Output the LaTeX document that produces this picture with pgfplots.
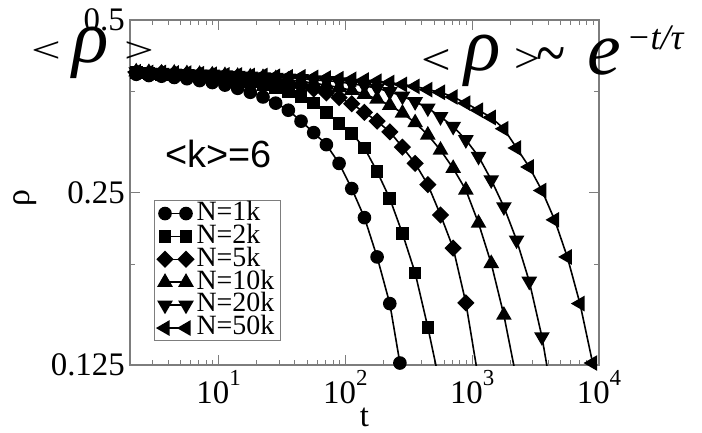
\documentclass[border=0pt]{standalone}
\usepackage{fontspec}
\setmainfont{Liberation Serif}
\newfontfamily\sansf{Liberation Sans}
\usepackage{graphicx}
\usepackage{pgfplots}
\pgfplotsset{compat=1.18}
\definecolor{axgray}{RGB}{125,125,125}

\begin{document}
\begin{tikzpicture}
\begin{axis}[
  at={(0,0)}, anchor=south west,
  scale only axis, width=469bp, height=345bp,
  xmode=log, ymode=log,
  xmin=2, xmax=10000, ymin=0.125, ymax=0.5,
  xtick={10,100,1000,10000},
  xticklabels={10\raisebox{18bp}{\fontsize{23}{23}\selectfont 1},
               10\raisebox{18bp}{\fontsize{23}{23}\selectfont 2},
               10\raisebox{18bp}{\fontsize{23}{23}\selectfont 3},
               10\raisebox{18bp}{\fontsize{23}{23}\selectfont 4}},
  minor xtick={2,3,4,5,6,7,8,9,20,30,40,50,60,70,80,90,200,300,400,500,600,700,800,900,2000,3000,4000,5000,6000,7000,8000,9000},
  ytick={0.125,0.25,0.5}, yticklabels={0.125,0.25,0.5},
  minor ytick={0.1875,0.375},
  tick align=inside,
  major tick length=10bp, minor tick length=5bp,
  axis line style={axgray, line width=1.2bp},
  tick style={axgray, line width=1bp},
  ticklabel style={font=\fontsize{33}{33}\selectfont, inner sep=0pt},
  yticklabel style={xshift=-5bp},
  xticklabel style={yshift=-5bp},
  xlabel={t},
  xlabel style={at={(axis description cs:0.5,-0.152)}, anchor=center, font=\fontsize{33}{33}\selectfont, inner sep=0pt},
  ylabel={ρ},
  ylabel style={at={(axis description cs:-0.224,0.483)}, anchor=center, font=\fontsize{34}{34}\selectfont, inner sep=0pt},
  legend style={at={(axis description cs:0.0512,0.478)}, anchor=north west,
    draw=axgray, line width=1bp, fill=white,
    font=\fontsize{28}{28}\selectfont, inner xsep=3bp, inner ysep=1.5bp,
    row sep=0pt,
    nodes={inner ysep=0.3bp, inner xsep=3bp, text height=18bp, text depth=4.3bp}},
  legend cell align=left,
  legend image code/.code={\draw[#1] plot coordinates {(0bp,0bp) (21bp,0bp)};},
  every axis plot/.append style={black, line width=1.6bp},
]
% N=1k
\addplot[mark=*, mark size=6bp, mark options={solid}] coordinates {
(2.239,0.402)(2.818,0.400)(3.548,0.399)(4.467,0.397)(5.623,0.395)(7.079,0.392)
(8.913,0.389)(11.22,0.385)(14.13,0.380)(17.78,0.374)(22.39,0.367)(28.18,0.358)
(35.48,0.348)(44.67,0.333)(56.23,0.318)(70.79,0.303)(89.13,0.281)(112.2,0.254)
(141.3,0.226)(177.8,0.193)(223.9,0.160)(269,0.126)};
\addlegendentry{N=1k}
% N=2k
\addplot[mark=square*, mark size=5.5bp, mark options={solid}] coordinates {
(2.239,0.405)(2.818,0.403)(3.548,0.402)(4.467,0.401)(5.623,0.400)(7.079,0.399)
(8.913,0.397)(11.22,0.395)(14.13,0.393)(17.78,0.390)(22.39,0.386)(28.18,0.381)
(35.48,0.375)(44.67,0.368)(56.23,0.358)(70.79,0.345)(89.13,0.330)(112.2,0.317)
(141.3,0.299)(177.8,0.272)(223.9,0.244)(281.8,0.212)(354.8,0.181)(446.7,0.1455)};
\addlegendentry{N=2k}
\addplot[no marks, forget plot] coordinates {(446.7,0.1455)(562.3,0.1145)};
% N=5k
\addplot[mark=square*, mark size=5.3bp, mark options={solid, rotate=45}] coordinates {
(2.239,0.405)(2.818,0.404)(3.548,0.404)(4.467,0.403)(5.623,0.402)(7.079,0.401)
(8.913,0.400)(11.22,0.399)(14.13,0.398)(17.78,0.396)(22.39,0.394)(28.18,0.391)
(35.48,0.388)(44.67,0.384)(56.23,0.379)(70.79,0.373)(89.13,0.366)(112.2,0.357)
(141.3,0.345)(177.8,0.333)(223.9,0.319)(281.8,0.300)(354.8,0.281)(446.7,0.258)
(562.3,0.2285)(707.9,0.200)(891.3,0.1605)};
\addlegendentry{N=5k}
\addplot[no marks, forget plot] coordinates {(891.3,0.1605)(1122,0.118)};
% N=10k
\addplot[mark=triangle*, mark size=7.5bp, mark options={solid}] coordinates {
(2.239,0.406)(2.818,0.405)(3.548,0.404)(4.467,0.404)(5.623,0.403)(7.079,0.402)
(8.913,0.401)(11.22,0.400)(14.13,0.399)(17.78,0.398)(22.39,0.397)(28.18,0.395)
(35.48,0.393)(44.67,0.391)(56.23,0.388)(70.79,0.385)(89.13,0.381)(112.2,0.377)
(141.3,0.371)(177.8,0.364)(223.9,0.355)(281.8,0.344)(354.8,0.331)(446.7,0.315)
(562.3,0.2965)(707.9,0.2755)(891.3,0.2525)(1122,0.221)(1413,0.188)(1778,0.1527)};
\addlegendentry{N=10k}
\addplot[no marks, forget plot] coordinates {(1778,0.1527)(2239,0.118)};
% N=20k
\addplot[mark=triangle*, mark size=7.5bp, mark options={solid, rotate=180}] coordinates {
(2.239,0.406)(2.818,0.405)(3.548,0.405)(4.467,0.404)(5.623,0.403)(7.079,0.402)
(8.913,0.402)(11.22,0.401)(14.13,0.400)(17.78,0.399)(22.39,0.398)(28.18,0.397)
(35.48,0.396)(44.67,0.395)(56.23,0.393)(70.79,0.392)(89.13,0.390)(112.2,0.387)
(141.3,0.384)(177.8,0.380)(223.9,0.375)(281.8,0.368)(354.8,0.360)(446.7,0.351)
(562.3,0.339)(707.9,0.326)(891.3,0.309)(1122,0.289)(1413,0.263)(1778,0.236)
(2239,0.2065)(2818,0.175)(3548,0.140)};
\addlegendentry{N=20k}
\addplot[no marks, forget plot] coordinates {(3548,0.140)(4467,0.104)};
% N=50k
\addplot[mark=triangle*, mark size=7.5bp, mark options={solid, rotate=90}] coordinates {
(2.239,0.406)(2.818,0.405)(3.548,0.405)(4.467,0.404)(5.623,0.404)(7.079,0.403)
(8.913,0.402)(11.22,0.401)(14.13,0.401)(17.78,0.400)(22.39,0.400)(28.18,0.399)
(35.48,0.398)(44.67,0.398)(56.23,0.397)(70.79,0.396)(89.13,0.395)(112.2,0.394)
(141.3,0.393)(177.8,0.391)(223.9,0.389)(281.8,0.386)(354.8,0.383)(446.7,0.378)
(562.3,0.374)(707.9,0.367)(891.3,0.358)(1122,0.348)(1413,0.338)(1778,0.323)
(2239,0.299)(2818,0.277)(3548,0.252)(4467,0.224)(5623,0.193)(7079,0.160)(8913,0.126)};
\addlegendentry{N=50k}
\end{axis}
% annotations (axis lower-left corner at origin, units bp)
\node[inner sep=0pt] at (-84bp,312.5bp) {\scalebox{1.45}[1]{\fontsize{36.5}{36.5}\selectfont <}};
\node[inner sep=0pt] at (-39bp,312bp) {\fontsize{76}{76}\selectfont\itshape ρ};
\node[inner sep=0pt] at (9bp,312.5bp) {\scalebox{1.45}[1]{\fontsize{36.5}{36.5}\selectfont >}};
\node[inner sep=0pt] at (306bp,303.5bp) {\scalebox{1.2}[1]{\fontsize{44}{44}\selectfont <}};
\node[inner sep=0pt] at (353bp,304.5bp) {\fontsize{76}{76}\selectfont\itshape ρ};
\node[inner sep=0pt] at (397bp,304bp) {\scalebox{1.1}[1]{\fontsize{42}{42}\selectfont >}};
\node[inner sep=0pt] at (421.5bp,303bp) {\scalebox{1}[1.3]{\fontsize{54}{54}\selectfont \textasciitilde}};
\node[inner sep=0pt] at (474bp,307.5bp) {\fontsize{76}{76}\selectfont\itshape e};
\node[inner sep=0pt] at (525bp,327bp) {\fontsize{36}{36}\selectfont\itshape −t/τ};
\node[inner sep=0pt] at (88.5bp,211.5bp) {\sansf\fontsize{38}{38}\selectfont <k>=6};
\pgfresetboundingbox
\path[use as bounding box] (-130bp,-68bp) rectangle (572bp,365bp);
\end{tikzpicture}
\end{document}
